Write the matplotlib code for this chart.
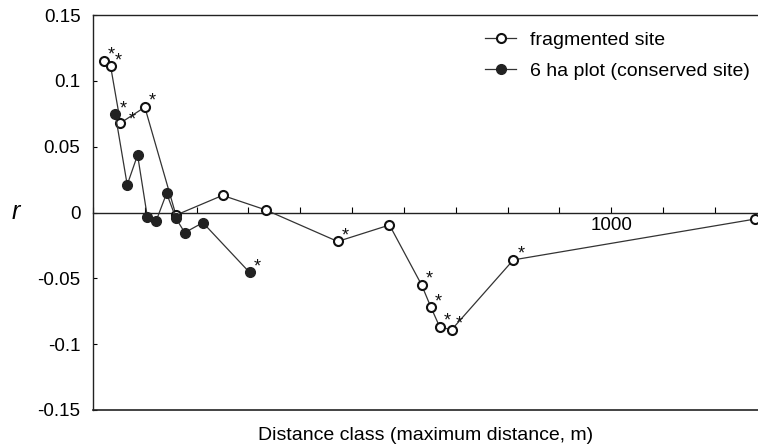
import matplotlib
matplotlib.use("Agg")
import matplotlib.pyplot as plt

# Mantel-type correlogram: r by distance class for two sites
frag_dist = [21, 34, 53, 100, 160, 250, 333, 472, 572, 634, 652, 669, 692, 811, 1277]
frag_r = [0.115, 0.111, 0.068, 0.080, -0.002, 0.013, 0.002, -0.022, -0.0095,
          -0.055, -0.072, -0.087, -0.089, -0.036, -0.005]
frag_sig = [True, True, True, True, False, False, False, True, False,
            True, True, True, True, True, False]

plot_dist = [43, 66, 86, 105, 122, 142, 160, 177, 212, 302]
plot_r = [0.0746, 0.021, 0.0437, -0.0037, -0.0062, 0.0146, -0.0044, -0.0153, -0.0077, -0.0455]
plot_sig = [True, False, False, False, False, False, False, False, False, True]

y_ticks = [0.15, 0.1, 0.05, 0, -0.05, -0.1, -0.15]
y_tick_labels = ["0.15", "0.1", "0.05", "0", "-0.05", "-0.1", "-0.15"]
x_ticks = list(range(0, 1300, 100))
x_tick_labels = ["1000" if t == 1000 else "" for t in x_ticks]

plt.rcParams["font.family"] = ["Liberation Sans", "DejaVu Sans"]

fig = plt.figure(figsize=(7.58, 4.45), dpi=100)
ax = fig.add_axes([93 / 758, 1 - 410 / 445, 1 - 93 / 758, (410 - 15) / 445])

line_col = "#333333"
ax.plot(frag_dist, frag_r, color=line_col, lw=0.9, marker="o", ms=6.5,
        mfc="white", mec="#111111", mew=1.5, label="fragmented site", zorder=3)
ax.plot(plot_dist, plot_r, color=line_col, lw=0.9, marker="o", ms=7,
        mfc="#222222", mec="#222222", mew=1.0, label="6 ha plot (conserved site)", zorder=4)

# significance asterisks (one nudged aside where two stars crowd together)
nudge = {("frag", 2): (6, -4)}
for name, xs, ys, sig in (("frag", frag_dist, frag_r, frag_sig),
                          ("plot", plot_dist, plot_r, plot_sig)):
    for i, (x, y, s) in enumerate(zip(xs, ys, sig)):
        if s:
            ax.annotate("*", (x, y), xytext=nudge.get((name, i), (3, -2)),
                        textcoords="offset points", ha="left", va="bottom",
                        fontsize=13, color="#111111", zorder=5)

ax.set_xlim(0, 1283)
ax.set_ylim(-0.15, 0.15)

# x axis runs along r = 0; the frame is closed with a line at the bottom
ax.spines["bottom"].set_position(("data", 0))
ax.spines["right"].set_visible(False)
for sp in ("left", "top", "bottom"):
    ax.spines[sp].set_linewidth(1.0)
    ax.spines[sp].set_color("#222222")
ax.plot([0, 1], [0, 0], transform=ax.transAxes, color="#222222", lw=1.2, clip_on=False)

ax.set_xticks(x_ticks)
ax.set_xticklabels(x_tick_labels)
ax.set_yticks(y_ticks)
ax.set_yticklabels(y_tick_labels)
ax.tick_params(axis="x", direction="in", length=4, width=0.8, pad=3, labelsize=13.5)
ax.tick_params(axis="y", direction="in", length=3, width=0.8, pad=9, labelsize=13.5)

ax.set_xlabel("Distance class (maximum distance, m)", fontsize=14)
ax.xaxis.set_label_coords(0.5, -0.043)
fig.text(16 / 758, 1 - 212 / 445, "r", fontsize=18, style="italic",
         ha="center", va="center")

ax.legend(loc="upper left", bbox_to_anchor=(0.566, 1.0), frameon=False, fontsize=14,
          handlelength=1.6, handletextpad=0.7, labelspacing=0.7, borderaxespad=0.42)

fig.savefig("out.png", dpi=100)
